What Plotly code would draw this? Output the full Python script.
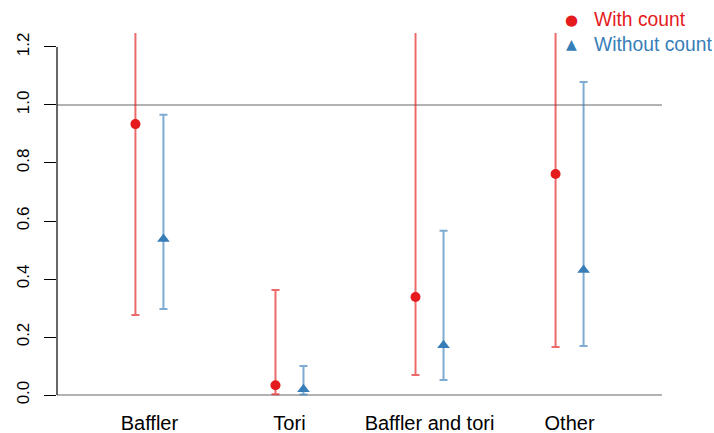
import plotly.graph_objects as go

categories = ["Baffler", "Tori", "Baffler and tori", "Other"]
with_est = [0.934, 0.034, 0.338, 0.762]
with_lo = [0.276, 0.003, 0.069, 0.166]
with_hi = [1.60, 0.362, 1.90, 2.00]
without_est = [0.538, 0.020, 0.172, 0.431]
without_lo = [0.297, 0.002, 0.052, 0.169]
without_hi = [0.966, 0.100, 0.566, 1.079]
ytick_vals = [0.0, 0.2, 0.4, 0.6, 0.8, 1.0, 1.2]
ytick_text = ["0.0", "0.2", "0.4", "0.6", "0.8", "1.0", "1.2"]
legend_labels = ["With count", "Without count"]

RED = "#E41A1C"
BLUE = "#377EB8"
pos = list(range(1, len(categories) + 1))
off = 0.1

fig = go.Figure()
fig.add_trace(go.Scatter(
    x=[p - off for p in pos], y=with_est, mode="markers", name=legend_labels[0],
    marker=dict(symbol="circle", size=10, color=RED),
    error_y=dict(type="data", symmetric=False,
                 array=[h - e for h, e in zip(with_hi, with_est)],
                 arrayminus=[e - l for e, l in zip(with_est, with_lo)],
                 color="rgba(228,26,28,0.65)", thickness=2, width=4),
))
fig.add_trace(go.Scatter(
    x=[p + off for p in pos], y=without_est, mode="markers", name=legend_labels[1],
    marker=dict(symbol="triangle-up", size=11, color=BLUE),
    error_y=dict(type="data", symmetric=False,
                 array=[h - e for h, e in zip(without_hi, without_est)],
                 arrayminus=[e - l for e, l in zip(without_est, without_lo)],
                 color="rgba(55,126,184,0.65)", thickness=2, width=4),
))

shapes = [
    dict(type="line", xref="paper", x0=0, x1=1, yref="y", y0=0, y1=0,
         line=dict(color="#999999", width=1.5), layer="below"),
    dict(type="line", xref="paper", x0=0, x1=1, yref="y", y0=1, y1=1,
         line=dict(color="#999999", width=1.5), layer="below"),
    dict(type="line", xref="paper", x0=0, x1=0, yref="y", y0=0, y1=1.2,
         line=dict(color="black", width=1.2)),
]

# legend drawn as text annotations (R-style legend without box)
sym_x, txt_x = 0.8496, 0.8860
row_y = [1.0346, 0.9707]
annotations = [
    dict(x=sym_x, y=row_y[0], xref="paper", yref="paper", text="●", showarrow=False,
         xanchor="center", yanchor="middle", font=dict(family="DejaVu Sans", size=15, color=RED)),
    dict(x=txt_x, y=row_y[0], xref="paper", yref="paper", text=legend_labels[0], showarrow=False,
         xanchor="left", yanchor="middle", borderpad=0, font=dict(size=19.3, color=RED)),
    dict(x=sym_x, y=row_y[1], xref="paper", yref="paper", text="▲", showarrow=False,
         xanchor="center", yanchor="middle", font=dict(family="DejaVu Sans", size=14, color=BLUE)),
    dict(x=txt_x, y=row_y[1], xref="paper", yref="paper", text=legend_labels[1], showarrow=False,
         xanchor="left", yanchor="middle", borderpad=0, font=dict(size=19.3, color=BLUE)),
]

fig.update_layout(
    width=714, height=433,
    margin=dict(l=57, r=52, t=33, b=24, autoexpand=False),
    paper_bgcolor="white", plot_bgcolor="white",
    font=dict(family="Liberation Sans, Arial, sans-serif", size=16, color="black"),
    showlegend=False,
    xaxis=dict(range=[0.34, 4.66], tickvals=pos, ticktext=categories,
               tickfont=dict(size=20),
               showgrid=False, zeroline=False, showline=False, ticks=""),
    yaxis=dict(range=[-0.048, 1.248], tickvals=ytick_vals, ticktext=ytick_text,
               tickfont=dict(size=17), ticklabelstandoff=8,
               tickangle=-90, ticks="outside", ticklen=12, tickcolor="black",
               tickwidth=1.2, showgrid=False, zeroline=False, showline=False),
    shapes=shapes,
    annotations=annotations,
)

fig.write_html(
    "out.html",
    config={"displayModeBar": False},
    post_script="document.body.style.margin='0';document.body.style.overflow='hidden';",
)
